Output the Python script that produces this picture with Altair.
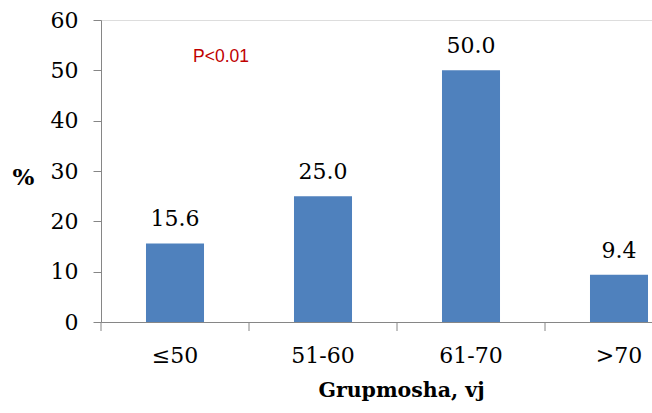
import altair as alt
import pandas as pd

categories = ["≤50", "51-60", "61-70", ">70"]
values = [15.6, 25.0, 50.0, 9.4]
labels = ["15.6", "25.0", "50.0", "9.4"]
y_ticks = [0, 10, 20, 30, 40, 50, 60]

df = pd.DataFrame({"cat": categories, "val": values, "lab": labels})

SERIF = "DejaVu Serif"
GRAY = "#868686"

xscale = alt.Scale(domain=categories, range=[0, 592], paddingInner=0, paddingOuter=0)
yscale = alt.Scale(domain=[0, 60])

base = alt.Chart(df)

bars = base.mark_bar(color="#4F81BD", width=alt.RelativeBandSize(0.392)).encode(
    x=alt.X("cat:N", scale=xscale, sort=categories,
            axis=alt.Axis(title="Grupmosha, vj", labelAngle=0, ticks=False,
                          labelPadding=23, labelFont=SERIF, labelFontSize=22,
                          labelColor="black", domainColor=GRAY, domainWidth=1,
                          titleFont=SERIF, titleFontSize=20.5, titleFontWeight="bold",
                          titleColor="black", titlePadding=14, titleX=300, titleAnchor="middle",
                          labelBaseline="top")),
    y=alt.Y("val:Q", scale=yscale,
            axis=alt.Axis(title="%", values=y_ticks, grid=False, tickSize=8,
                          tickColor=GRAY, domainColor=GRAY, labelFont=SERIF,
                          labelFontSize=22, labelColor="black", labelPadding=15,
                          titleAngle=0, titleFont=SERIF, titleFontSize=23,
                          titleFontWeight="bold", titleColor="black",
                          titleX=-78, titleY=157, titleAlign="center",
                          titleBaseline="middle")),
)

text = base.mark_text(font=SERIF, fontSize=22, color="black", dy=-17,
                      baseline="alphabetic").encode(
    x=alt.X("cat:N", scale=xscale, sort=categories),
    y=alt.Y("val:Q", scale=yscale),
    text="lab:N",
)

ticks = base.mark_rule(color=GRAY, strokeWidth=1).encode(
    x=alt.X("cat:N", scale=xscale, sort=categories, bandPosition=0),
    y=alt.value(302),
    y2=alt.value(311),
)

ptext = alt.Chart(pd.DataFrame({"t": ["P<0.01"]})).mark_text(
    font="Liberation Sans", fontSize=17.5, color="#C00000", align="center",
    baseline="alphabetic").encode(
    x=alt.value(120), y=alt.value(42), text="t:N")

chart = alt.layer(bars, text, ticks, ptext).properties(
    width=551, height=302,
    padding={"left": 101, "top": 20, "right": 0, "bottom": 91},
    autosize=alt.AutoSizeParams(type="none"),
).configure_view(stroke=None).configure(background="white")

chart.save("out.html", embed_options={"renderer": "svg", "actions": False})
